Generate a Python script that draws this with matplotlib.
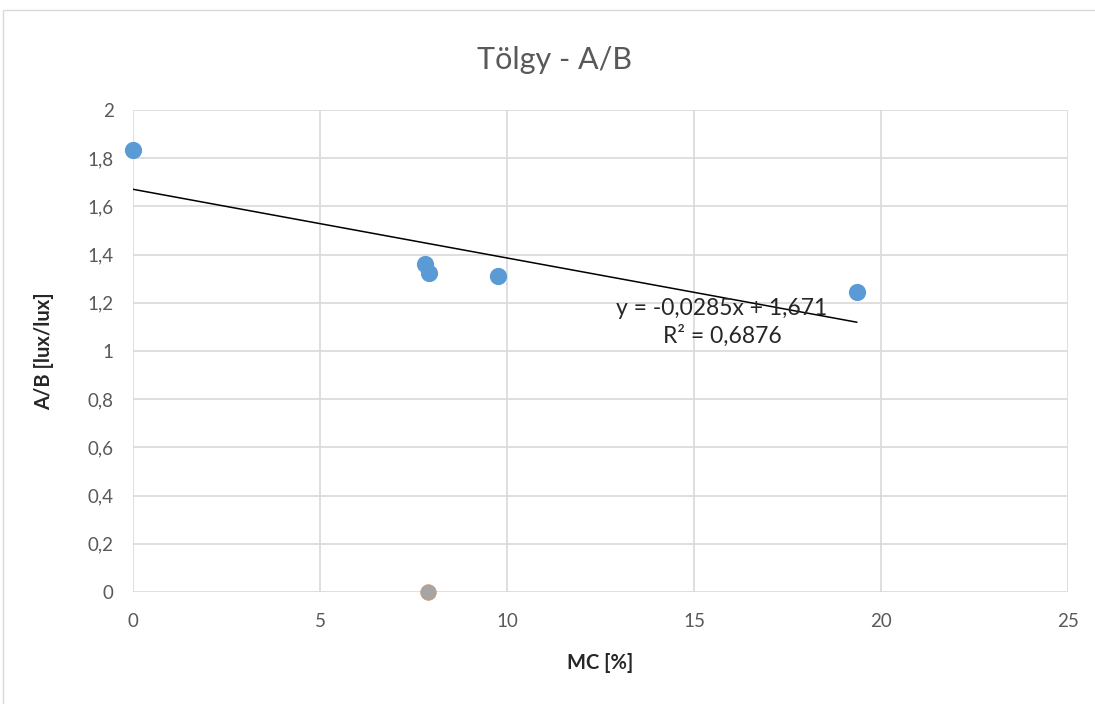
import numpy as np
import matplotlib.pyplot as plt
from matplotlib.patches import Rectangle

plt.rcParams['font.family'] = ['Lato', 'DejaVu Sans']

# data
mc = [0.0, 7.82, 7.92, 9.75, 19.35]
ab = [1.835, 1.362, 1.325, 1.312, 1.245]
mc_gray = [7.9]
ab_gray = [0.0]
slope, intercept = -0.0285, 1.671
eq_text = "y = -0,0285x + 1,671\nR² = 0,6876"
x_ticks = [0, 5, 10, 15, 20, 25]
y_ticks = [0, 0.2, 0.4, 0.6, 0.8, 1.0, 1.2, 1.4, 1.6, 1.8, 2.0]

fig = plt.figure(figsize=(10.95, 7.04), dpi=100)
ax = fig.add_axes([133 / 1095, 1 - 592 / 704, (1068 - 133) / 1095, (592 - 110) / 704])

# chart border
fig.patches.append(Rectangle((3 / 1095, -0.01), 1.0, 1 - 10 / 704 + 0.01,
                             transform=fig.transFigure, fill=False,
                             edgecolor='#d9d9d9', linewidth=1))

ax.set_xlim(0, 25)
ax.set_ylim(0, 2)
ax.set_xticks(x_ticks)
ax.set_yticks(y_ticks)
ax.set_yticklabels([f"{v:g}".replace('.', ',') for v in y_ticks])
ax.grid(True, color='#d9d9d9', linewidth=1.2)
ax.set_axisbelow(True)
for s in ax.spines.values():
    s.set_visible(False)
ax.tick_params(length=0, labelsize=13.5, labelcolor='#595959')
ax.tick_params(axis='x', pad=15)
ax.tick_params(axis='y', pad=14)

xs = np.array([0, max(mc)])
ax.plot(xs, slope * xs + intercept, color='black', linewidth=1.1, zorder=2)

ax.scatter(mc, ab, s=130, color='#5b9bd5', zorder=3, clip_on=False)
ax.scatter(mc_gray, ab_gray, s=130, color='#a5a5a5', edgecolor='#ed7d31',
           linewidth=0.3, zorder=3, clip_on=False)

ax.text(15.75, 1.12, eq_text, ha='center', va='center', fontsize=16.5,
        color='#262626', linespacing=1.3)

ax.set_xlabel("MC [%]", fontsize=14.5, fontweight='bold', color='#262626', labelpad=17)
ax.set_ylabel("A/B [lux/lux]", fontsize=14.5, fontweight='bold', color='#262626', labelpad=24)
fig.text(0.506, 1 - 60 / 704, "Tölgy - A/B", ha='center', va='center',
         fontsize=22, color='#595959')

fig.savefig("out.png", dpi=100)
